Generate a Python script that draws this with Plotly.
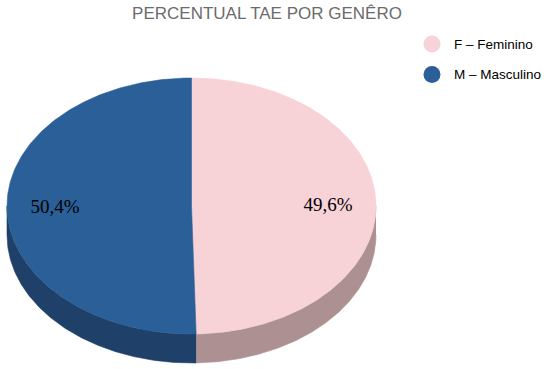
import numpy as np
import plotly.graph_objects as go

# ---- data ----
categories = ["F – Feminino", "M – Masculino"]
values = [49.6, 50.4]
labels = ["49,6%", "50,4%"]
top_colors = ["#f7d2d7", "#2b5f97"]
side_colors = ["#ad9192", "#1f4068"]
title_text = "PERCENTUAL TAE POR GENÊRO"

# ---- geometry (pixel space) ----
W, H = 550, 369
cx, cy = 191.5, 206.0
rx, ry = 184.5, 128.0
depth = 29.0


def pt(theta, dy=0.0):
    # theta measured clockwise from 12 o'clock
    return cx + rx * np.sin(theta), cy - ry * np.cos(theta) + dy


fig = go.Figure()

total = float(sum(values))
fracs = [v / total for v in values]
starts = np.cumsum([0.0] + fracs[:-1]) * 2 * np.pi
ends = np.cumsum(fracs) * 2 * np.pi

# side walls (visible front: pi/2 .. 3pi/2)
for s, e, col in zip(starts, ends, side_colors):
    a0, a1 = max(s, np.pi / 2), min(e, 3 * np.pi / 2)
    if a1 <= a0:
        continue
    th = np.linspace(a0, a1, 200)
    x1, y1 = pt(th)
    x2, y2 = pt(th[::-1], depth)
    fig.add_trace(go.Scatter(
        x=np.concatenate([x1, x2]), y=np.concatenate([y1, y2]),
        fill="toself", fillcolor=col, mode="lines",
        line=dict(width=0.6, color=col), hoverinfo="skip", showlegend=False))

# top faces
for s, e, col in zip(starts, ends, top_colors):
    th = np.linspace(s, e, 300)
    x, y = pt(th)
    fig.add_trace(go.Scatter(
        x=np.concatenate([[cx], x, [cx]]), y=np.concatenate([[cy], y, [cy]]),
        fill="toself", fillcolor=col, mode="lines",
        line=dict(width=0.6, color=col), hoverinfo="skip", showlegend=False))

# percentage labels
mids = (starts + ends) / 2
lx = cx + 0.74 * rx * np.sin(mids)
ly = cy - 0.74 * ry * np.cos(mids) + 1
fig.add_trace(go.Scatter(
    x=lx, y=ly, mode="text", text=labels,
    textfont=dict(family="Liberation Serif", size=19, color="#000000"),
    hoverinfo="skip", showlegend=False))

# legend (manual)
leg_x, leg_y0, leg_dy = 432, 44, 30.5
leg_y = [leg_y0 + i * leg_dy for i in range(len(categories))]
fig.add_trace(go.Scatter(
    x=[leg_x] * len(categories), y=leg_y, mode="markers",
    marker=dict(size=17, color=top_colors, line=dict(width=0)),
    hoverinfo="skip", showlegend=False))
for cat, yy in zip(categories, leg_y):
    fig.add_annotation(x=leg_x + 20, y=yy, text=cat, showarrow=False,
                       xanchor="left", yanchor="middle",
                       font=dict(family="Liberation Sans", size=13.5, color="#000000"))

fig.update_layout(
    width=W, height=H,
    margin=dict(l=0, r=0, t=0, b=0),
    paper_bgcolor="white", plot_bgcolor="white",
    xaxis=dict(range=[0, W], visible=False, fixedrange=True),
    yaxis=dict(range=[H, 0], visible=False, fixedrange=True),
    title=dict(text=title_text, x=267 / W, xanchor="center",
               y=1 - 13.5 / H, yanchor="middle", yref="container",
               font=dict(family="Liberation Sans", size=17, color="#6b6b6b")),
    showlegend=False,
)

fig.write_html("out.html", config={"displayModeBar": False},
               post_script="document.body.style.margin='0px';")
